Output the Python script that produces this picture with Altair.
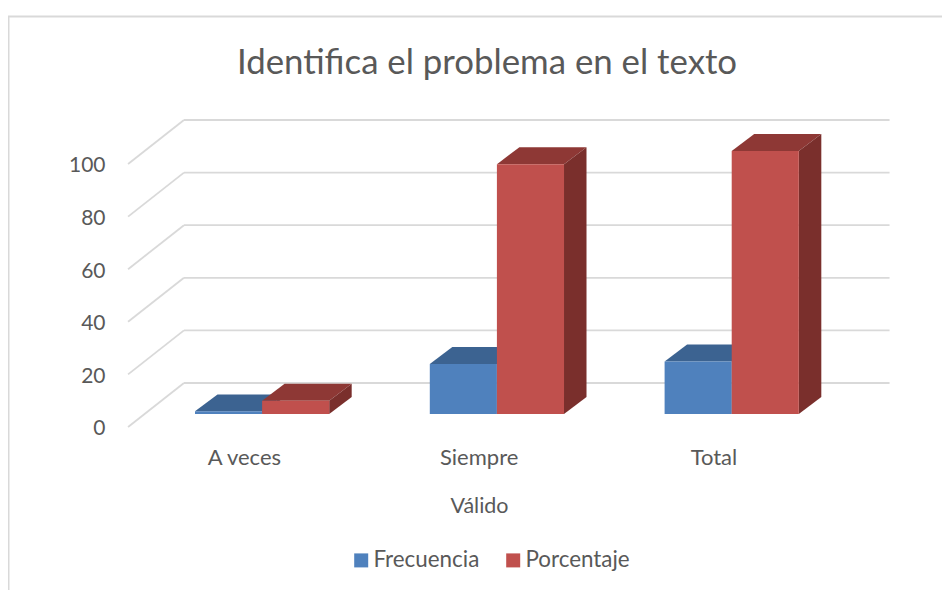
import altair as alt
import pandas as pd

CATEGORIES = ["A veces", "Siempre", "Total"]
FRECUENCIA = [1, 19, 20]
PORCENTAJE = [5, 95, 100]
TICKS = [0, 20, 40, 60, 80, 100]
SERIES = ["Frecuencia", "Porcentaje"]
FRONT = {"Frecuencia": "#4F81BD", "Porcentaje": "#C0504D"}
TOP = {"Frecuencia": "#3C6391", "Porcentaje": "#8E3835"}
SIDE = {"Frecuencia": "#345780", "Porcentaje": "#7A2F2C"}
TEXT = "#595959"
GRID = "#D9D9D9"
FONT = "Lato"

# Layout (category step = 1 x unit)
W, H = 934, 582
XDOM = [-0.7964, 3.1814]
YDOM = [-66.92, 154.37]
BAR_W = 0.2858
DX = 0.0958
DY = 6.46
LABEL_POS = 0.208
WALL_BACK = 11.79
WALL_FRONT = -4.94
WALL_X0 = -0.285
WALL_X1 = -0.047
WALL_X2 = 2.958

x_scale = alt.Scale(domain=XDOM, nice=False, zero=False)
y_scale = alt.Scale(domain=YDOM, nice=False, zero=False)

x_axis = alt.Axis(
    values=[i + LABEL_POS for i in range(len(CATEGORIES))],
    labelExpr="[" + ",".join(f"'{c}'" for c in CATEGORIES) + "][floor(datum.value)]",
    title="Válido", titleFontWeight="normal", titleColor=TEXT, titleFontSize=21.5, titleFont=FONT,
    titleX=471, titleY=49, titleBaseline="middle",
    domain=False, ticks=False, grid=False, labelColor=TEXT, labelFontSize=22, labelFont=FONT,
    labelPadding=0, offset=-133, labelBaseline="middle", labelFlush=False, labelOverlap=False)
y_axis = alt.Axis(
    values=TICKS, title=None, domain=False, ticks=False, grid=False, labelColor=TEXT,
    labelFontSize=21, labelFont=FONT, labelPadding=0, offset=-97, labelOffset=15,
    labelFlush=False, labelOverlap=False)

bars = []
for i, c in enumerate(CATEGORIES):
    for j, (s, v) in enumerate(zip(SERIES, (FRECUENCIA[i], PORCENTAJE[i]))):
        bars.append(dict(cat=c, serie=s, val=v, left=i + j * BAR_W, right=i + (j + 1) * BAR_W))
bars = pd.DataFrame(bars)

top_rows, side_rows = [], []
for r in bars.itertuples():
    key = f"{r.cat}-{r.serie}"
    for k in (0, 1):
        top_rows.append(dict(key=key, serie=r.serie, y=r.val + k * DY, a=r.left + k * DX, b=r.right + k * DX))
        side_rows.append(dict(key=key, serie=r.serie, x=r.right + k * DX, y=r.val + k * DY, y2=k * DY))
tops = pd.DataFrame(top_rows)
sides = pd.DataFrame(side_rows)

wall = pd.DataFrame({"t": TICKS})
wall["yb"] = wall.t + WALL_BACK
wall["yf"] = wall.t + WALL_FRONT
wall["x0"], wall["x1"], wall["x2"] = WALL_X0, WALL_X1, WALL_X2

X = lambda f, **k: alt.X(f, type="quantitative", scale=x_scale, axis=x_axis, **k)
Y = lambda f, **k: alt.Y(f, type="quantitative", scale=y_scale, axis=y_axis, **k)

layers = []

# Border
border = pd.DataFrame({"x": [XDOM[0]], "x2": [XDOM[1]], "y": [YDOM[1] - 8.6 / 2.63], "y0": [YDOM[0]]})
layers.append(alt.Chart(border).mark_rule(color=GRID, strokeWidth=2).encode(
    x=X("x"), x2="x2:Q", y=Y("y")))
layers.append(alt.Chart(border).mark_rule(color=GRID, strokeWidth=3).encode(
    x=X("x"), y=Y("y"), y2="y0:Q"))

# Wall grid
layers.append(alt.Chart(wall).mark_rule(color=GRID, strokeWidth=1.8).encode(
    x=X("x1"), x2="x2:Q", y=Y("yb")))
layers.append(alt.Chart(wall).mark_rule(color=GRID, strokeWidth=1.8).encode(
    x=X("x0"), x2="x1:Q", y=Y("yf"), y2="yb:Q"))

# Top and side faces, Frecuencia below Porcentaje
for s in SERIES:
    layers.append(alt.Chart(tops[tops.serie == s]).mark_area(color=TOP[s], orient="horizontal").encode(
        y=Y("y"), x=X("a", stack=None), x2="b:Q", detail="key:N"))
    layers.append(alt.Chart(sides[sides.serie == s]).mark_area(color=SIDE[s], orient="vertical").encode(
        x=X("x"), y=Y("y", stack=None), y2="y2:Q", detail="key:N"))

# Front faces, with the legend
layers.append(alt.Chart(bars).mark_rect().encode(
    x=X("left"), x2="right:Q", y=Y("val"), y2=alt.Y2(datum=0),
    color=alt.Color("serie:N", scale=alt.Scale(domain=SERIES, range=[FRONT[s] for s in SERIES]),
                    legend=alt.Legend(
                        title=None, orient="none", legendX=342, legendY=541, direction="horizontal",
                        symbolType="square", symbolSize=196, symbolStrokeWidth=0, symbolOpacity=1,
                        labelFontSize=22.4, labelFont=FONT, labelColor=TEXT, labelOffset=1,
                        columnPadding=22, columns=2)),
))

chart = alt.layer(*layers).properties(
    width=W, height=H,
    title=alt.TitleParams("Identifica el problema en el texto", anchor="middle", font=FONT, fontSize=34.8,
                          fontWeight="normal", color=TEXT, dx=12, dy=78),
    autosize=alt.AutoSizeParams(type="none"), padding=0, background="white",
).configure_view(stroke=None)

chart.save("out.html", embed_options={"renderer": "svg", "actions": False})
